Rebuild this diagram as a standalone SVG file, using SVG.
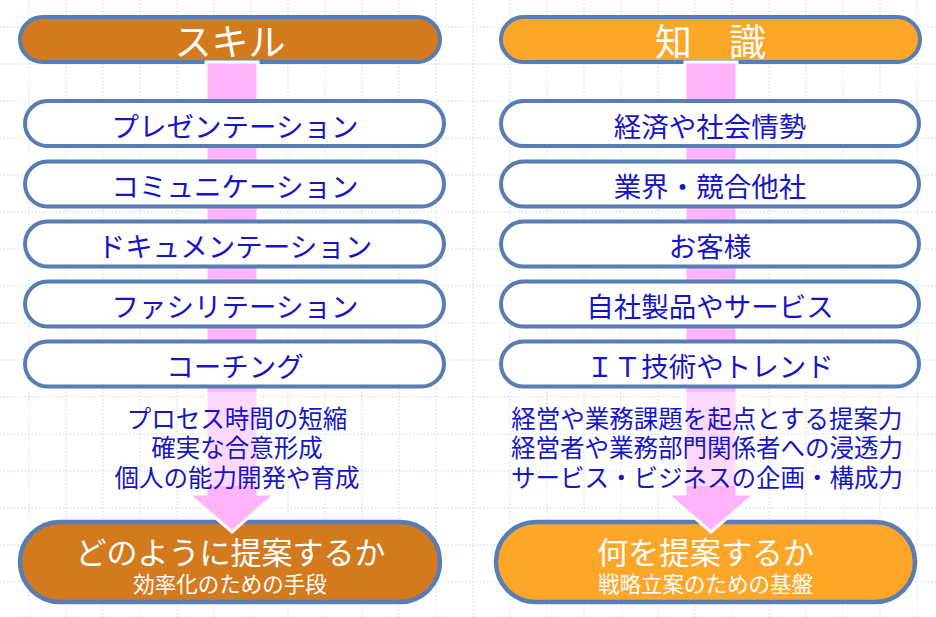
<svg xmlns="http://www.w3.org/2000/svg" width="936" height="617" viewBox="0 0 936 617">
<style>
.grid line{stroke:#c9d5f2;stroke-width:1;stroke-dasharray:1.5 2}
text{font-family:"Noto Sans CJK JP","Noto Sans CJK SC",sans-serif;text-anchor:middle;dominant-baseline:central}
.hdr{stroke:#587db5;stroke-width:4}
.item rect{fill:#fff;stroke:#587db5;stroke-width:4}
.item text{fill:#1515c8;font-size:27.5px}
.hdr-t{fill:#fff;font-size:37px}
.res{stroke:#587db5;stroke-width:4.5}
.res-t1{fill:#fff;font-size:31px}
.res-t2{fill:#fff;font-size:21.5px}
.mid{fill:#1515c8;font-size:24.5px}
.arrow{fill:#ffb3fb;stroke:#fff;stroke-width:3;stroke-linejoin:miter}
.veil{fill:#fff;opacity:0.5}
</style>
<rect width="936" height="617" fill="#fff"/>
<g class="grid">
<line x1="29" y1="0" x2="29" y2="617"/><line x1="66" y1="0" x2="66" y2="617"/><line x1="103" y1="0" x2="103" y2="617"/><line x1="140" y1="0" x2="140" y2="617"/><line x1="177" y1="0" x2="177" y2="617"/><line x1="214" y1="0" x2="214" y2="617"/><line x1="251" y1="0" x2="251" y2="617"/><line x1="288" y1="0" x2="288" y2="617"/><line x1="325" y1="0" x2="325" y2="617"/><line x1="362" y1="0" x2="362" y2="617"/><line x1="399" y1="0" x2="399" y2="617"/><line x1="436" y1="0" x2="436" y2="617"/><line x1="473" y1="0" x2="473" y2="617"/><line x1="510" y1="0" x2="510" y2="617"/><line x1="547" y1="0" x2="547" y2="617"/><line x1="584" y1="0" x2="584" y2="617"/><line x1="621" y1="0" x2="621" y2="617"/><line x1="658" y1="0" x2="658" y2="617"/><line x1="695" y1="0" x2="695" y2="617"/><line x1="732" y1="0" x2="732" y2="617"/><line x1="769" y1="0" x2="769" y2="617"/><line x1="806" y1="0" x2="806" y2="617"/><line x1="843" y1="0" x2="843" y2="617"/><line x1="880" y1="0" x2="880" y2="617"/><line x1="917" y1="0" x2="917" y2="617"/>
<line x1="0" y1="27" x2="936" y2="27"/><line x1="0" y1="64" x2="936" y2="64"/><line x1="0" y1="101" x2="936" y2="101"/><line x1="0" y1="138" x2="936" y2="138"/><line x1="0" y1="175" x2="936" y2="175"/><line x1="0" y1="212" x2="936" y2="212"/><line x1="0" y1="249" x2="936" y2="249"/><line x1="0" y1="286" x2="936" y2="286"/><line x1="0" y1="323" x2="936" y2="323"/><line x1="0" y1="360" x2="936" y2="360"/><line x1="0" y1="397" x2="936" y2="397"/><line x1="0" y1="434" x2="936" y2="434"/><line x1="0" y1="471" x2="936" y2="471"/><line x1="0" y1="508" x2="936" y2="508"/><line x1="0" y1="545" x2="936" y2="545"/><line x1="0" y1="582" x2="936" y2="582"/>
</g>

<g id="skill-header">
<rect class="hdr" x="20" y="17" width="420" height="45" rx="22.5" fill="#d37a1f"/>
<text class="hdr-t" x="230" y="40">スキル</text>
</g>
<g id="knowledge-header">
<rect class="hdr" x="501" y="17" width="419" height="45" rx="22.5" fill="#fea628"/>
<text class="hdr-t" x="710.5" y="40">知　識</text>
</g>

<g id="skill-result">
<rect class="res" x="20" y="522" width="420" height="80" rx="40" fill="#d37a1f"/>
<text class="res-t1" x="230.5" y="550">どのように提案するか</text>
<text class="res-t2" x="230" y="582">効率化のための手段</text>
</g>
<g id="knowledge-result">
<rect class="res" x="496" y="522" width="419" height="80" rx="40" fill="#fea628"/>
<text class="res-t1" x="705.5" y="550">何を提案するか</text>
<text class="res-t2" x="705.5" y="582">戦略立案のための基盤</text>
</g>

<g id="connectors">
<polygon class="arrow" points="206,62 258,62 258,494 275,494 232,532 188,494 206,494"/>
<polygon class="arrow" points="685,62 737,62 737,494 755,494 711,532 667,494 685,494"/>
<rect class="veil" x="206" y="392" width="52" height="94"/>
<rect class="veil" x="685" y="392" width="52" height="94"/>
</g>

<g id="skill-items">
<g id="s1" class="item"><rect x="25" y="101" width="419" height="45" rx="22.5"/><text x="235" y="124.5">プレゼンテーション</text></g>
<g id="s2" class="item"><rect x="25" y="161.5" width="419" height="45" rx="22.5"/><text x="235" y="185">コミュニケーション</text></g>
<g id="s3" class="item"><rect x="25" y="221.5" width="419" height="45" rx="22.5"/><text x="235" y="245">ドキュメンテーション</text></g>
<g id="s4" class="item"><rect x="25" y="281.5" width="419" height="45" rx="22.5"/><text x="235" y="305">ファシリテーション</text></g>
<g id="s5" class="item"><rect x="25" y="341.5" width="419" height="45" rx="22.5"/><text x="235" y="365">コーチング</text></g>
</g>

<g id="knowledge-items">
<g id="k1" class="item"><rect x="501" y="101" width="418" height="45" rx="22.5"/><text x="710" y="124.5">経済や社会情勢</text></g>
<g id="k2" class="item"><rect x="501" y="161.5" width="418" height="45" rx="22.5"/><text x="710" y="185">業界・競合他社</text></g>
<g id="k3" class="item"><rect x="501" y="221.5" width="418" height="45" rx="22.5"/><text x="710" y="245">お客様</text></g>
<g id="k4" class="item"><rect x="501" y="281.5" width="418" height="45" rx="22.5"/><text x="710" y="305">自社製品やサービス</text></g>
<g id="k5" class="item"><rect x="501" y="341.5" width="418" height="45" rx="22.5"/><text x="710" y="365">ＩＴ技術やトレンド</text></g>
</g>

<g id="skill-effects">
<text class="mid" x="237" y="417">プロセス時間の短縮</text>
<text class="mid" x="237" y="446.5">確実な合意形成</text>
<text class="mid" x="237" y="476">個人の能力開発や育成</text>
</g>
<g id="knowledge-effects">
<text class="mid" x="707" y="417">経営や業務課題を起点とする提案力</text>
<text class="mid" x="707" y="446.5">経営者や業務部門関係者への浸透力</text>
<text class="mid" x="707" y="476">サービス・ビジネスの企画・構成力</text>
</g>
</svg>
